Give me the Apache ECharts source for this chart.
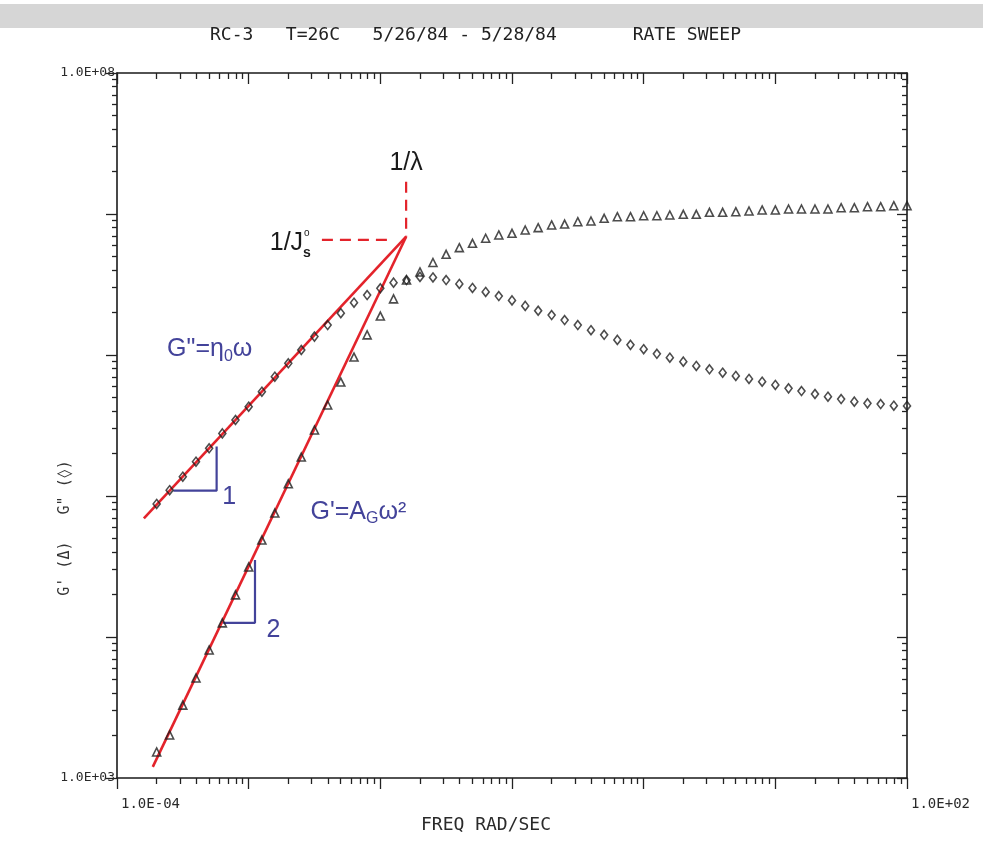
<!DOCTYPE html>
<html>
<head>
<meta charset="utf-8">
<title>RC-3 rate sweep</title>
<script src="https://cdn.jsdelivr.net/npm/echarts@6/dist/echarts.min.js"></script>
<style>
    html, body { margin: 0; padding: 0; background: #fff; }
    #chart { width: 983px; height: 841px; }
</style>
</head>
<body>
<div id="chart"></div>
<script>
    // frequency sweep, rad/sec (10 points per decade)
    var freq = [
        2.00e-4, 2.51e-4, 3.16e-4, 3.98e-4, 5.01e-4, 6.31e-4, 7.94e-4,
        1.00e-3, 1.26e-3, 1.58e-3, 2.00e-3, 2.51e-3, 3.16e-3, 3.98e-3, 5.01e-3, 6.31e-3, 7.94e-3,
        1.00e-2, 1.26e-2, 1.58e-2, 2.00e-2, 2.51e-2, 3.16e-2, 3.98e-2, 5.01e-2, 6.31e-2, 7.94e-2,
        0.100, 0.126, 0.158, 0.200, 0.251, 0.316, 0.398, 0.501, 0.631, 0.794,
        1.00, 1.26, 1.58, 2.00, 2.51, 3.16, 3.98, 5.01, 6.31, 7.94,
        10.0, 12.6, 15.8, 20.0, 25.1, 31.6, 39.8, 50.1, 63.1, 79.4,
        100
    ];
    // G' (triangles)
    var gStorage = [
        1.53e3, 2.02e3, 3.29e3, 5.12e3, 8.09e3, 1.26e4, 1.99e4,
        3.14e4, 4.87e4, 7.57e4, 1.22e5, 1.89e5, 2.94e5, 4.42e5, 6.43e5, 9.67e5, 1.39e6,
        1.89e6, 2.50e6, 3.40e6, 3.88e6, 4.53e6, 5.18e6, 5.77e6, 6.20e6, 6.73e6, 7.10e6,
        7.30e6, 7.70e6, 8.00e6, 8.36e6, 8.49e6, 8.82e6, 8.92e6, 9.32e6, 9.57e6, 9.57e6,
        9.72e6, 9.72e6, 9.84e6, 9.95e6, 9.95e6, 1.028e7, 1.028e7, 1.038e7, 1.050e7, 1.068e7,
        1.068e7, 1.085e7, 1.085e7, 1.085e7, 1.085e7, 1.108e7, 1.108e7, 1.127e7, 1.127e7, 1.145e7,
        1.145e7
    ];
    // G'' (diamonds)
    var gLoss = [
        8.78e4, 1.10e5, 1.37e5, 1.75e5, 2.18e5, 2.78e5, 3.46e5,
        4.30e5, 5.49e5, 7.02e5, 8.73e5, 1.085e6, 1.35e6, 1.63e6, 1.98e6, 2.35e6, 2.66e6,
        2.97e6, 3.26e6, 3.40e6, 3.58e6, 3.55e6, 3.40e6, 3.19e6, 2.99e6, 2.80e6, 2.62e6,
        2.44e6, 2.23e6, 2.06e6, 1.92e6, 1.77e6, 1.63e6, 1.50e6, 1.39e6, 1.28e6, 1.18e6,
        1.10e6, 1.02e6, 9.57e5, 8.97e5, 8.36e5, 7.92e5, 7.49e5, 7.10e5, 6.76e5, 6.47e5,
        6.13e5, 5.80e5, 5.55e5, 5.29e5, 5.06e5, 4.87e5, 4.67e5, 4.54e5, 4.49e5, 4.37e5,
        4.35e5
    ];

    // hand drawn annotations (freq, modulus)
    var fitLoss = [[1.60e-4, 6.95e4], [1.57e-2, 6.9e6]];
    var fitStorage = [[1.87e-4, 1.20e3], [1.57e-2, 6.9e6]];
    var dashJs = [[3.6e-3, 6.55e6], [1.25e-2, 6.55e6]];
    var dashLambda = [[1.57e-2, 1.69e7], [1.57e-2, 6.9e6]];
    var slopeOne = [[2.68e-4, 1.09e5], [5.71e-4, 1.09e5], [5.71e-4, 2.24e5]];
    var slopeTwo = [[6.41e-4, 1.26e4], [1.117e-3, 1.26e4], [1.117e-3, 3.52e4]];

    var noteLambda = [1.57e-2, 2.30e7];
    var noteJs = [2.59e-3, 6.25e6];
    var noteLoss = [2.40e-4, 1.10e6];
    var noteStorage = [2.95e-3, 7.74e4];
    var noteOne = [7.10e-4, 9.84e4];
    var noteTwo = [1.54e-3, 1.12e4];

    // axis decades (log10) and minor tick steps
    var xDecades = [-4, -3, -2, -1, 0, 1, 2];
    var yDecades = [3, 4, 5, 6, 7, 8];
    var xLabelled = [-4, 2];
    var yLabelled = [3, 8];
    var minorSteps = [2, 3, 4, 5, 6, 7, 8, 9];

    var mono = '"DejaVu Sans Mono", monospace';
    var sans = '"Liberation Sans", Arial, sans-serif';
    var red = '#e3232b';
    var blue = '#43439a';

    var minorOf = function (decades) {
        var out = [];
        decades.slice(0, -1).forEach(function (d) {
            minorSteps.forEach(function (s) { out.push(d + Math.log10(s)); });
        });
        return out;
    };

    var sci = function (v) {
        var a = Math.abs(v);
        return '1.0E' + (v < 0 ? '-' : '+') + (a < 10 ? '0' : '') + a;
    };

    // value axes in log10 units, only used to draw the plotter style frame and ticks
    var frameAxis = function (pos, lo, hi, ticks, len, inside, line) {
        return {
            type: 'value', position: pos, min: lo, max: hi,
            axisLine: { show: line, onZero: false, lineStyle: { color: '#1a1a1a', width: 1.6 } },
            axisTick: { show: true, inside: inside, length: len, customValues: ticks,
                lineStyle: { color: '#222', width: 1.3 } },
            axisLabel: { show: false },
            splitLine: { show: false }
        };
    };

    var pairs = function (ys) {
        return freq.map(function (f, i) { return [f, ys[i]]; });
    };

    var xBottom = frameAxis('bottom', -4, 2, xDecades, 11, false, true);
    xBottom.axisLabel = {
        show: true, customValues: xLabelled, formatter: sci, align: 'left', margin: 19,
        padding: [0, 0, 0, 4], fontFamily: mono, fontSize: 14, color: '#2a2a2a'
    };
    xBottom.name = 'FREQ RAD/SEC';
    xBottom.nameLocation = 'middle';
    xBottom.nameGap = 21;
    xBottom.nameTextStyle = { fontFamily: mono, fontSize: 18, color: '#2a2a2a', padding: [0, 52, 0, 0] };

    var yLeft = frameAxis('left', 3, 8, yDecades, 11, false, true);
    yLeft.axisLabel = {
        show: true, customValues: yLabelled, formatter: sci, verticalAlign: 'middle', margin: 2,
        fontFamily: mono, fontSize: 13, color: '#2a2a2a'
    };

    var chart = echarts.init(document.getElementById('chart'));
    var option = {
        backgroundColor: '#fff',
        animation: false,
        title: {
            text: 'RC-3   T=26C   5/26/84 - 5/28/84       RATE SWEEP',
            left: 205, top: 21,
            textStyle: { fontFamily: mono, fontSize: 18, fontWeight: 'normal', color: '#222' }
        },
        grid: { left: 117, top: 73, width: 790, height: 705 },
        xAxis: [
            { type: 'log', logBase: 10, min: 1e-4, max: 1e2, show: false },
            xBottom,
            frameAxis('bottom', -4, 2, minorOf(xDecades), 6, false, false),
            frameAxis('top', -4, 2, xDecades, 11, true, true),
            frameAxis('top', -4, 2, minorOf(xDecades), 6, true, false)
        ],
        yAxis: [
            { type: 'log', logBase: 10, min: 1e3, max: 1e8, show: false },
            yLeft,
            frameAxis('left', 3, 8, minorOf(yDecades), 5, false, false),
            frameAxis('right', 3, 8, yDecades, 10, true, true),
            frameAxis('right', 3, 8, minorOf(yDecades), 5, true, false)
        ],
        series: [
            {
                name: 'fit G\'\'', type: 'line', data: fitLoss, symbol: 'none', z: 3,
                lineStyle: { color: red, width: 2.6 }
            },
            {
                name: 'fit G\'', type: 'line', data: fitStorage, symbol: 'none', z: 3,
                lineStyle: { color: red, width: 2.6 }
            },
            {
                name: '1/Js', type: 'line', data: dashJs, symbol: 'none', z: 3,
                lineStyle: { color: red, width: 2.2, type: [11, 7] }
            },
            {
                name: '1/lambda', type: 'line', data: dashLambda, symbol: 'none', z: 3,
                lineStyle: { color: red, width: 2.2, type: [11, 7] }
            },
            {
                name: 'slope 1', type: 'line', data: slopeOne, symbol: 'none', z: 3,
                lineStyle: { color: blue, width: 2.2 }
            },
            {
                name: 'slope 2', type: 'line', data: slopeTwo, symbol: 'none', z: 3,
                lineStyle: { color: blue, width: 2.2 }
            },
            {
                name: 'G\'', type: 'scatter', data: pairs(gStorage), z: 5,
                symbol: 'triangle', symbolSize: 8,
                itemStyle: { color: 'rgba(0,0,0,0)', borderColor: '#1f1f1f', borderWidth: 1.6 }
            },
            {
                name: 'G\'\'', type: 'scatter', data: pairs(gLoss), z: 5,
                symbol: 'diamond', symbolSize: [7, 9],
                itemStyle: { color: 'rgba(0,0,0,0)', borderColor: '#1f1f1f', borderWidth: 1.6 }
            }
        ]
    };
    chart.setOption(option);

    var at = function (p) { return chart.convertToPixel({ seriesIndex: 0 }, p); };
    var text = function (p, str, font, fill, align, dx, dy) {
        var q = at(p);
        return {
            type: 'text', x: q[0] + (dx || 0), y: q[1] + (dy || 0), z: 10,
            style: {
                text: str, font: font, fill: fill,
                align: align, textAlign: align, verticalAlign: 'middle', textVerticalAlign: 'middle'
            }
        };
    };
    var rich = function (p, str, fill) {
        var q = at(p);
        return {
            type: 'text', x: q[0], y: q[1], z: 10,
            style: {
                text: str, align: 'left', textAlign: 'left', verticalAlign: 'middle', textVerticalAlign: 'middle',
                rich: {
                    m: { fontFamily: sans, fontSize: 25, fill: fill },
                    s: { fontFamily: sans, fontSize: 16, fill: fill, padding: [14, 0, 0, 0] }
                }
            }
        };
    };

    chart.setOption({
        graphic: [
            { type: 'rect', z: -1, shape: { x: 0, y: 4, width: 983, height: 24 }, style: { fill: '#d6d6d6' } },
            {
                type: 'text', x: 65, y: 528, rotation: Math.PI / 2,
                style: {
                    text: 'G\' (\u0394)   G" (\u25CA)', font: '15px ' + mono, fill: '#333',
                    align: 'center', textAlign: 'center', verticalAlign: 'middle', textVerticalAlign: 'middle'
                }
            },
            text(noteLambda, '1/\u03BB', '25px ' + sans, '#1a1a1a', 'center'),
            text(noteJs, '1/J', '25px ' + sans, '#1a1a1a', 'right'),
            text(noteJs, 's', 'bold 14px ' + sans, '#1a1a1a', 'left', 0, 10),
            text(noteJs, 'o', '10px ' + sans, '#1a1a1a', 'left', 1, -10),
            rich(noteLoss, '{m|G"=\u03B7}{s|0}{m|\u03C9}', blue),
            rich(noteStorage, '{m|G\'=A}{s|G}{m|\u03C9\u00B2}', blue),
            text(noteOne, '1', '25px ' + sans, blue, 'center'),
            text(noteTwo, '2', '25px ' + sans, blue, 'center')
        ]
    });
</script>
</body>
</html>
